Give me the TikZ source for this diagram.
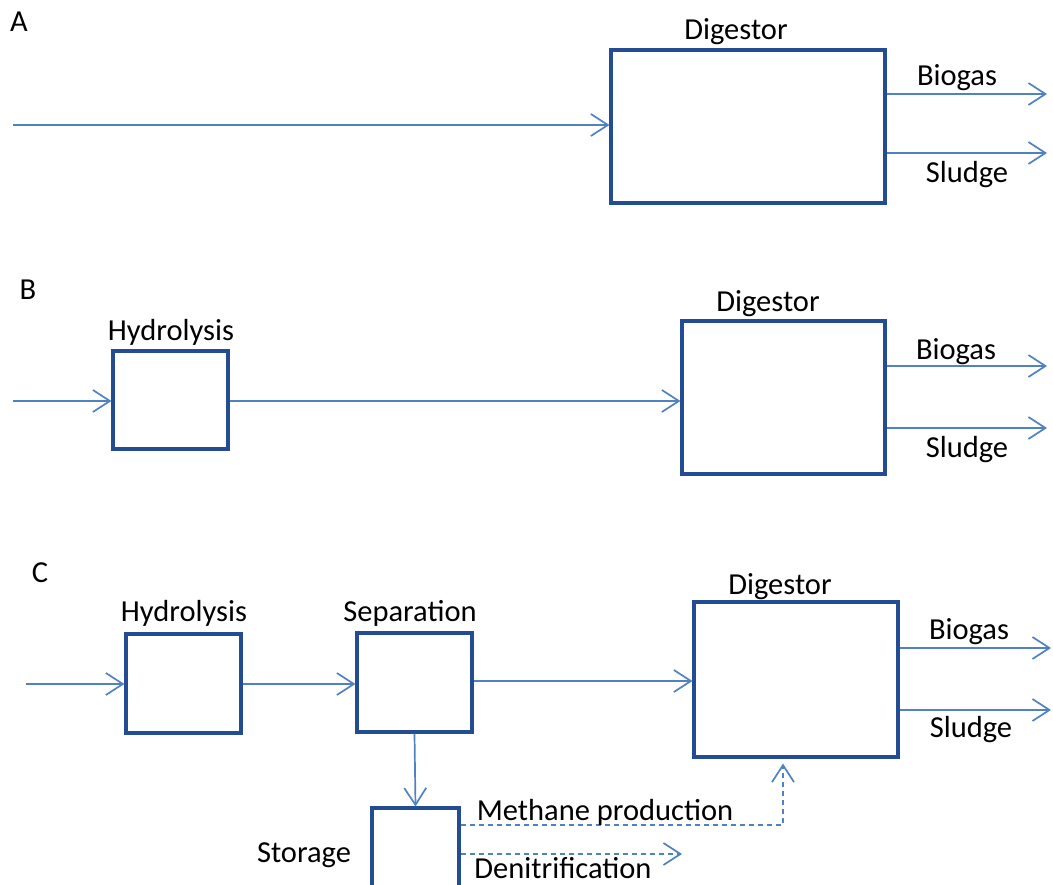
\documentclass[tikz,border=0pt]{standalone}
\usepackage{fontspec}
\setmainfont{Carlito}
\usetikzlibrary{arrows.meta}
\definecolor{boxcol}{RGB}{36,76,146}
\definecolor{arrcol}{RGB}{80,130,192}
\tikzset{
  box/.style={draw=boxcol, line width=3.1pt, inner sep=0pt, fill=none},
  arr/.style={draw=arrcol, line width=1.7pt, -{Straight Barb[length=17pt,width=22pt,line width=1.7pt]}},
  darr/.style={arr, dash pattern=on 5pt off 4pt},
  lab/.style={font=\fontsize{30.5}{36}\selectfont, inner sep=0pt, text=black},
}
\begin{document}
\begin{tikzpicture}[x=1pt,y=-1pt]
\clip (0,0) rectangle (1053,885);
\fill[white] (0,0) rectangle (1053,885);

% ---------- Panel A ----------
\node[lab] (labA) at (19,22) {A};
\node[box, minimum width=274pt, minimum height=153pt] (dA) at (748,126.5) {};
\node[lab] (tdA) at (736,32) {Digestor};
\coordinate (inA) at (13,125);
\draw[arr] (inA) -- (inA -| dA.west);
\coordinate (bgA) at (1047,94);
\coordinate (slA) at (1047,153);
\draw[arr] (bgA -| dA.east) -- (bgA);
\draw[arr] (slA -| dA.east) -- (slA);
\node[lab] (tbgA) at (957,78) {Biogas};
\node[lab] (tslA) at (967,175) {Sludge};

% ---------- Panel B ----------
\node[lab] (labB) at (28,290) {B};
\node[box, minimum width=115pt, minimum height=98pt] (hB) at (170.5,400) {};
\node[lab] (thB) at (171,332) {Hydrolysis};
\node[box, minimum width=203pt, minimum height=153pt] (dB) at (783.5,397.5) {};
\node[lab] (tdB) at (768,304) {Digestor};
\coordinate (inB) at (13,401);
\draw[arr] (inB) -- (inB -| hB.west);
\draw[arr] (hB.east |- inB) -- (inB -| dB.west);
\coordinate (bgB) at (1047,366);
\coordinate (slB) at (1047,428);
\draw[arr] (bgB -| dB.east) -- (bgB);
\draw[arr] (slB -| dB.east) -- (slB);
\node[lab] (tbgB) at (956,352) {Biogas};
\node[lab] (tslB) at (967,450) {Sludge};

% ---------- Panel C ----------
\node[lab] (labC) at (40,573) {C};
\node[box, minimum width=115pt, minimum height=99pt] (hC) at (183.5,683.5) {};
\node[lab] (thC) at (184,613) {Hydrolysis};
\node[box, minimum width=115pt, minimum height=99pt] (sC) at (414.5,682.5) {};
\node[lab] (tsC) at (410,613) {Separation};
\node[box, minimum width=204pt, minimum height=155pt] (dC) at (796,679.5) {};
\node[lab] (tdC) at (780,587) {Digestor};
\node[box, minimum width=87pt, minimum height=92pt] (stC) at (415.5,854) {};
\node[lab] (tstC) at (304,855) {Storage};
\coordinate (inC) at (26,684);
\draw[arr] (inC) -- (inC -| hC.west);
\draw[arr] (hC.east |- inC) -- (inC -| sC.west);
\coordinate (sdC) at (0,681);
\draw[arr] (sC.east |- sdC) -- (sdC -| dC.west);
\draw[arr] (sC.south) -- (stC.north);
\coordinate (bgC) at (1051,648);
\coordinate (slC) at (1051,710);
\draw[arr] (bgC -| dC.east) -- (bgC);
\draw[arr] (slC -| dC.east) -- (slC);
\node[lab] (tbgC) at (969,632) {Biogas};
\node[lab] (tslC) at (971,730) {Sludge};
\coordinate (mp) at (783,825);
\draw[darr, shorten >=5pt] (mp -| stC.east) -- (mp) -- (mp |- dC.south);
\node[lab] (tmp) at (605,812) {Methane production};
\coordinate (dn) at (682,854);
\draw[darr] (dn -| stC.east) -- (dn);
\node[lab] (tdn) at (563,868) {Denitrification};
\end{tikzpicture}
\end{document}
